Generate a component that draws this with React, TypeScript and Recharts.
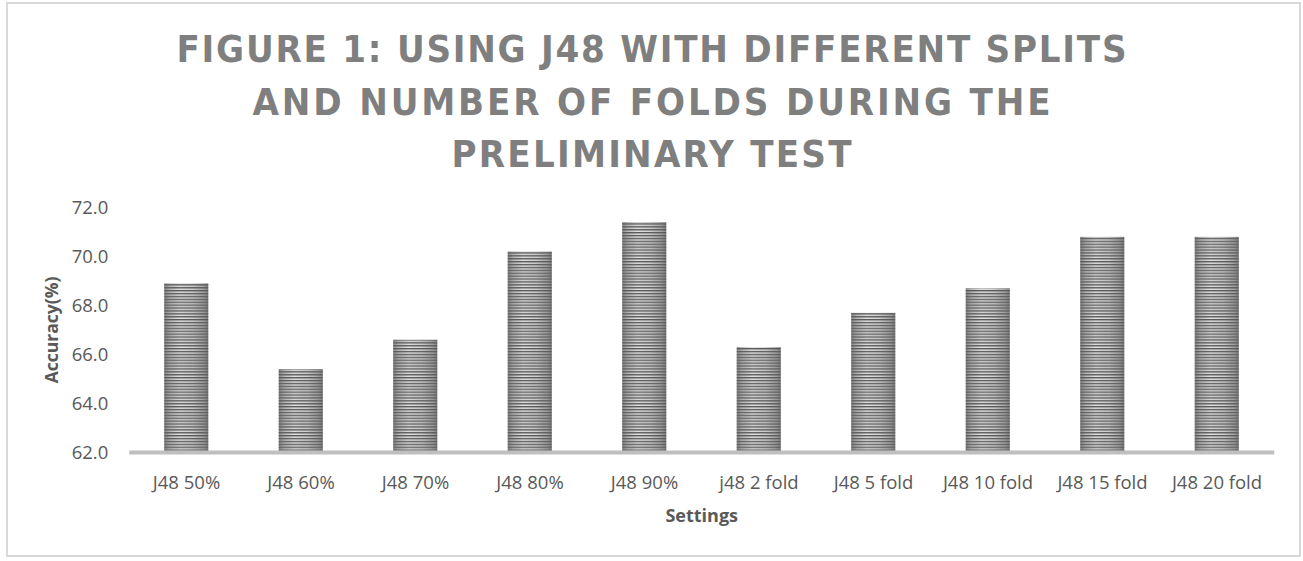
import React from 'react';
import { BarChart, Bar, XAxis, YAxis, Label } from 'recharts';

const categories = ['J48 50%', 'J48 60%', 'J48 70%', 'J48 80%', 'J48 90%', 'j48 2 fold', 'J48 5 fold', 'J48 10 fold', 'J48 15 fold', 'J48 20 fold'];
const accuracy = [68.9, 65.4, 66.6, 70.2, 71.4, 66.3, 67.7, 68.7, 70.8, 70.8];
const yTicks = [62, 64, 66, 68, 70, 72];
const titleLines = ['FIGURE 1: USING J48 WITH DIFFERENT SPLITS', 'AND NUMBER OF FOLDS DURING THE', 'PRELIMINARY TEST'];

const data = categories.map((name, i) => ({ name, value: accuracy[i] }));

const W = 1303;
const H = 561;

const StripedBar = (props: any) => {
  const { x, y, width, height } = props;
  if (!height || height <= 0) return null;
  return (
    <g>
      <rect x={x} y={y} width={width} height={height} fill="url(#barShade)" />
      <rect x={x} y={y} width={width} height={height} fill="url(#barStripes)" />
    </g>
  );
};

const titleLayout = [
  { y: 62, len: 950 },
  { y: 115, len: 798 },
  { y: 167, len: 400 },
];

export default function App() {
  return (
    <div style={{ position: 'absolute', left: 0, top: 0, width: W, height: H, background: '#fff', overflow: 'hidden' }}>
      <svg width={0} height={0} style={{ position: 'absolute', left: 0, top: 0 }}>
        <defs>
          <linearGradient id="barShade" x1="0" y1="0" x2="1" y2="0">
            <stop offset="0%" stopColor="#858585" />
            <stop offset="12%" stopColor="#b8b8b8" />
            <stop offset="35%" stopColor="#e2e2e2" />
            <stop offset="65%" stopColor="#d0d0d0" />
            <stop offset="90%" stopColor="#a3a3a3" />
            <stop offset="100%" stopColor="#7c7c7c" />
          </linearGradient>
          <pattern id="barStripes" patternUnits="userSpaceOnUse" x="0" y="0" width="10" height="2.9">
            <rect x="0" y="0" width="10" height="1.4" fill="#5a5a5a" />
          </pattern>
        </defs>
      </svg>
      <div
        style={{
          position: 'absolute',
          left: 6,
          top: 2,
          width: 1295,
          height: 555,
          border: '2px solid #d9d9d9',
          boxSizing: 'border-box',
        }}
      />
      <svg width={W} height={200} style={{ position: 'absolute', left: 0, top: 0 }}>
        {titleLines.map((t, i) => (
          <text
            key={i}
            x={651.5}
            y={titleLayout[i].y}
            textAnchor="middle"
            textLength={titleLayout[i].len}
            lengthAdjust="spacing"
            fill="#7f7f7f"
            style={{ fontFamily: '"DejaVu Sans Condensed", "Liberation Sans Narrow", sans-serif', fontWeight: 700, fontStretch: 'condensed', fontSize: 38 }}
          >
            {t}
          </text>
        ))}
      </svg>
      <div style={{ position: 'absolute', left: 0, top: 0 }}>
        <BarChart
          width={W}
          height={H}
          data={data}
          margin={{ top: 207.5, right: 28.75, left: 0, bottom: 78.5 }}
          style={{ fontFamily: '"Open Sans", sans-serif' }}
        >
          <XAxis
            dataKey="name"
            interval={0}
            height={30}
            tickSize={0}
            tickMargin={23}
            tickLine={false}
            axisLine={{ stroke: '#bfbfbf', strokeWidth: 4 }}
            tick={{ fill: '#595959', fontSize: 18.5, fontFamily: '"Open Sans", sans-serif' }}
          >
            <Label
              value="Settings"
              position="center"
              dy={48.5}
              style={{ fill: '#595959', fontSize: 18, fontWeight: 700, fontFamily: '"Open Sans", sans-serif' }}
            />
          </XAxis>
          <YAxis
            type="number"
            domain={[62, 72]}
            ticks={yTicks}
            width={129.25}
            tickSize={0}
            tickMargin={21}
            tickLine={false}
            axisLine={false}
            allowDataOverflow
            tickFormatter={(v: number) => v.toFixed(1)}
            tick={{ fill: '#595959', fontSize: 18.5, fontFamily: '"Open Sans", sans-serif' }}
          >
            <Label
              value="Accuracy(%)"
              angle={-90}
              position="center"
              dx={-13}
              style={{ fill: '#595959', fontSize: 17.5, fontWeight: 700, fontFamily: '"Open Sans", sans-serif', textAnchor: 'middle' }}
            />
          </YAxis>
          <Bar dataKey="value" barSize={44} shape={StripedBar} isAnimationActive={false} />
        </BarChart>
      </div>
    </div>
  );
}
